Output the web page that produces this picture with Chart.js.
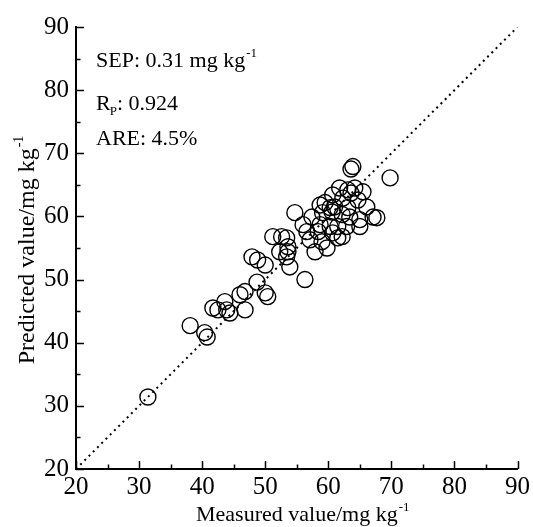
<!DOCTYPE html>
<html>
<head>
<meta charset="utf-8">
<script src="https://cdn.jsdelivr.net/npm/chart.js@4/dist/chart.umd.min.js"></script>
<style>
html,body{margin:0;padding:0;background:#fff;}
#c{display:block;}
</style>
</head>
<body>
<canvas id="c" width="533" height="527"></canvas>
<script>
// Data
const measured = [31.4,38.1,40.4,40.8,41.7,42.5,43.6,43.9,44.4,46.8,46.0,46.8,47.9,48.8,48.7,50.0,50.0,50.4,51.2,52.3,52.6,53.4,53.6,53.6,53.4,53.9,54.7,56.0,56.3,56.6,57.4,57.1,57.9,58.4,58.7,59.0,59.1,59.5,59.8,60.3,60.3,60.6,60.7,60.7,61.0,61.5,61.5,61.8,62.2,62.2,62.3,62.9,63.1,63.1,63.4,63.6,63.9,64.2,64.7,65.0,65.0,65.5,66.1,67.1,67.7,69.8,58.7,63.6];
const predicted = [31.4,42.7,41.6,40.9,45.5,45.2,46.5,45.2,44.7,45.2,47.6,48.1,53.6,53.1,49.6,52.3,47.9,47.3,56.8,54.4,56.8,56.6,54.4,55.2,53.6,52.0,60.6,58.7,50.0,57.6,59.9,56.3,54.4,57.6,58.7,56.0,60.6,62.2,55.0,61.4,58.4,60.7,63.4,57.4,61.5,58.4,56.6,64.5,60.3,56.8,62.9,58.4,64.2,61.4,59.9,67.5,67.9,64.5,62.6,59.5,58.4,63.9,61.5,59.9,59.8,66.1,61.8,63.7];
const refLine = [20, 90];
const axisTicks = [20,30,40,50,60,70,80,90];
const minorTicks = [25,35,45,55,65,75,85];
const xTitle = "Measured value/mg kg";
const yTitle = "Predicted value/mg kg";
const unitSup = "-1";
const sepText = "SEP: 0.31 mg kg";
const rpMain = "R";
const rpSub = "P";
const rpRest = ": 0.924";
const areText = "ARE: 4.5%";

const FONT = "'Liberation Serif','Times New Roman',serif";

const points = measured.map((m,i)=>({x:m,y:predicted[i]}));
const linePts = refLine.map(v=>({x:v,y:v}));

const decor = {
  id:'decor',
  afterDraw(chart){
    const ctx = chart.ctx, xs = chart.scales.x, ys = chart.scales.y, a = chart.chartArea;
    ctx.save();
    ctx.strokeStyle = '#000';
    ctx.lineWidth = 1.5;
    const drawTick = (v, len) => {
      const px = Math.round(xs.getPixelForValue(v)) + 0.5;
      ctx.beginPath(); ctx.moveTo(px, a.bottom); ctx.lineTo(px, a.bottom - len); ctx.stroke();
      const py = Math.round(ys.getPixelForValue(v)) + 0.5;
      ctx.beginPath(); ctx.moveTo(a.left, py); ctx.lineTo(a.left + len, py); ctx.stroke();
    };
    axisTicks.forEach(v=>drawTick(v, 8));
    minorTicks.forEach(v=>drawTick(v, 4.5));

    ctx.fillStyle = '#000';
    ctx.textBaseline = 'alphabetic';
    ctx.textAlign = 'left';
    // annotations
    const fs = 22, ss = 13;
    const tx = a.left + 20;
    ctx.font = fs + "px " + FONT;
    ctx.fillText(sepText, tx, a.top + 40);
    let w = ctx.measureText(sepText).width;
    ctx.font = ss + "px " + FONT;
    ctx.fillText(unitSup, tx + w + 1, a.top + 30);
    ctx.font = fs + "px " + FONT;
    ctx.fillText(rpMain, tx, a.top + 83);
    w = ctx.measureText(rpMain).width;
    ctx.font = ss + "px " + FONT;
    ctx.fillText(rpSub, tx + w - 1, a.top + 88);
    const w2 = ctx.measureText(rpSub).width;
    ctx.font = fs + "px " + FONT;
    ctx.fillText(rpRest, tx + w - 1 + w2, a.top + 83);
    ctx.fillText(areText, tx, a.top + 118);

    // x axis title
    const tf = 22, ts = 13;
    ctx.font = tf + "px " + FONT;
    let tw = ctx.measureText(xTitle).width;
    ctx.font = ts + "px " + FONT;
    let sw = ctx.measureText(unitSup).width;
    let cx = (a.left + a.right) / 2 + 6;
    let startX = cx - (tw + sw + 1) / 2;
    ctx.font = tf + "px " + FONT;
    ctx.fillText(xTitle, startX, 521);
    ctx.font = ts + "px " + FONT;
    ctx.fillText(unitSup, startX + tw + 1, 511);

    // y axis title
    const yf = 24, ys2 = 14;
    ctx.translate(34, (a.top + a.bottom) / 2 + 2);
    ctx.rotate(-Math.PI / 2);
    ctx.font = yf + "px " + FONT;
    tw = ctx.measureText(yTitle).width;
    ctx.font = ys2 + "px " + FONT;
    sw = ctx.measureText(unitSup).width;
    startX = -(tw + sw + 1) / 2;
    ctx.font = yf + "px " + FONT;
    ctx.fillText(yTitle, startX, 0);
    ctx.font = ys2 + "px " + FONT;
    ctx.fillText(unitSup, startX + tw + 1, -11);
    ctx.restore();
  }
};

new Chart(document.getElementById('c'), {
  type: 'scatter',
  data: {
    datasets: [
      {
        type: 'scatter',
        data: points,
        pointStyle: 'circle',
        pointRadius: 8,
        pointHoverRadius: 8,
        borderColor: '#000',
        backgroundColor: 'rgba(255,255,255,0)',
        borderWidth: 1.4,
        order: 2
      },
      {
        type: 'line',
        data: linePts,
        borderColor: '#000',
        borderWidth: 2,
        borderDash: [2, 4],
        pointRadius: 0,
        fill: false,
        order: 1
      }
    ]
  },
  options: {
    responsive: false,
    animation: false,
    events: [],
    layout: { padding: { top: 27, right: 15, left: 0, bottom: 0 } },
    plugins: { legend: { display: false }, tooltip: { enabled: false } },
    scales: {
      x: {
        type: 'linear', min: 20, max: 90,
        afterFit(s){ s.height = 58; },
        grid: { display: false, drawTicks: false },
        border: { display: true, color: '#000', width: 2 },
        afterBuildTicks(s){ s.ticks = axisTicks.map(v=>({value:v})); },
        ticks: { color: '#000', font: { family: FONT, size: 25 }, padding: 3, maxRotation: 0, autoSkip: false }
      },
      y: {
        type: 'linear', min: 20, max: 90,
        afterFit(s){ s.width = 76; },
        grid: { display: false, drawTicks: false },
        border: { display: true, color: '#000', width: 2 },
        afterBuildTicks(s){ s.ticks = axisTicks.map(v=>({value:v})); },
        ticks: { color: '#000', font: { family: FONT, size: 25 }, padding: 7, autoSkip: false }
      }
    }
  },
  plugins: [decor]
});
</script>
</body>
</html>
